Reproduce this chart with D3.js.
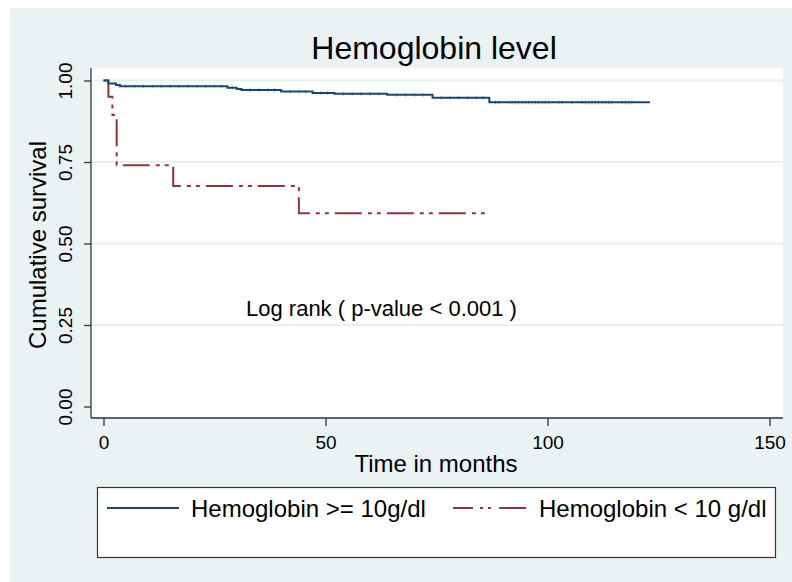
<!DOCTYPE html>
<html>
<head>
<meta charset="utf-8">
<script src="https://cdn.jsdelivr.net/npm/d3@7"></script>
<style>
  body { margin: 0; background: #fff; }
  text { font-family: "Liberation Sans", Arial, Helvetica, sans-serif; fill: #000; }
</style>
</head>
<body>
<div id="kmDiv"></div>
<script>

// Kaplan-Meier steps (time in months, survival)
var highTimes = [0, 1.1, 2.8, 3.7, 27.9, 30.0, 31.1, 40.0, 47.1, 52.0, 63.9, 74.1, 86.9];
var highSurv  = [1.0, 0.991, 0.986, 0.982, 0.978, 0.974, 0.971, 0.966, 0.962, 0.959, 0.956, 0.947, 0.933];
var highEnd = 123.1;

var lowTimes = [0, 1.1, 2.0, 2.97, 15.7, 44.0];
var lowSurv  = [1.0, 0.95, 0.894, 0.740, 0.676, 0.593];
var lowEnd = 87.0;

// censored times of the high group (little hatch marks on the line)
var highCensor = [5, 7, 9, 11, 13, 15, 17, 19, 21, 23, 25, 26.5, 29, 33, 35, 37, 38.5, 42, 44, 45.5,
  49, 50.5, 54, 56, 58, 60, 62, 66, 68, 70, 72, 76, 78, 80, 82, 84, 85.5,
  88.3, 89, 91.3, 92, 92.8, 93.5, 94.3, 95, 95.8, 96.5, 97.3, 98, 98.8, 99.5, 100.3,
  102.5, 103.3, 105.5, 107.8, 108.5, 109.3, 110, 110.8, 111.5, 112.3, 113, 113.8, 114.5,
  116.8, 117.5, 118.3, 119];

var xTicks = [0, 50, 100, 150];
var yTicks = [0, 0.25, 0.5, 0.75, 1];
var yGrid = [0.25, 0.5, 0.75, 1];

var seriesNames = ["Hemoglobin >= 10g/dl", "Hemoglobin < 10 g/dl"];
var seriesColors = ["#1a476f", "#90353b"];

var W = 792, H = 582;
var dashDotDot = "27,6,4,5,4,6";

var svg = d3.select("#kmDiv").append("svg")
    .attr("width", W)
    .attr("height", H);

// graph region background
svg.append("rect")
    .attr("x", 10).attr("y", 8)
    .attr("width", W - 10).attr("height", H - 8)
    .attr("fill", "#eaf2f3");

// plot region
var plot = {left: 91, right: 783, top: 68, bottom: 418};
svg.append("rect")
    .attr("x", plot.left).attr("y", plot.top)
    .attr("width", plot.right - plot.left).attr("height", plot.bottom - plot.top)
    .attr("fill", "#fff");

// scales
var x = d3.scaleLinear().domain([0, 150]).range([103.5, 769.5]);
var y = d3.scaleLinear().domain([0, 1]).range([406.5, 80.5]);

// gridlines
svg.selectAll(".grid")
    .data(yGrid)
  .enter().append("line")
    .attr("class", "grid")
    .attr("x1", plot.left + 1).attr("x2", plot.right)
    .attr("y1", function(d) { return y(d); })
    .attr("y2", function(d) { return y(d); })
    .attr("stroke", "#e8eff1")
    .attr("stroke-width", 2);

// axes
var ya = d3.axisLeft(y).tickValues(yTicks).tickSize(7).tickFormat(d3.format(".2f"));
var xa = d3.axisBottom(x).tickValues(xTicks).tickSize(8).tickFormat(d3.format("d"));

var gy = svg.append("g")
    .attr("transform", "translate(" + plot.left + ",0)")
    .call(ya);
gy.select(".domain").remove();
gy.append("line")
    .attr("x1", 0).attr("x2", 0)
    .attr("y1", plot.top).attr("y2", plot.bottom)
    .attr("stroke", "#333").attr("stroke-width", 1.3);
gy.selectAll(".tick line").attr("stroke", "#333").attr("stroke-width", 1.3);
gy.selectAll(".tick text")
    .attr("x", null).attr("dy", null)
    .attr("transform", "translate(-19,0) rotate(-90)")
    .style("text-anchor", "middle")
    .style("font-size", "19px")
    .style("font-family", "'Liberation Sans', Arial, sans-serif")
    .attr("fill", "#000");

var gx = svg.append("g")
    .attr("transform", "translate(0," + plot.bottom + ")")
    .call(xa);
gx.select(".domain").remove();
gx.append("line")
    .attr("x1", plot.left).attr("x2", plot.right)
    .attr("y1", 0).attr("y2", 0)
    .attr("stroke", "#333").attr("stroke-width", 1.3);
gx.selectAll(".tick line").attr("stroke", "#333").attr("stroke-width", 1.3);
gx.selectAll(".tick text")
    .attr("y", 31).attr("dy", null)
    .style("font-size", "19px")
    .style("font-family", "'Liberation Sans', Arial, sans-serif")
    .attr("fill", "#000");

// survival step curves
function stepPoints(times, surv, end) {
  var pts = times.map(function(t, i) { return [t, surv[i]]; });
  pts.push([end, surv[surv.length - 1]]);
  return pts;
}
var stepLine = d3.line()
    .x(function(d) { return x(d[0]); })
    .y(function(d) { return y(d[1]); })
    .curve(d3.curveStepAfter);

svg.append("path")
    .datum(stepPoints(lowTimes, lowSurv, lowEnd))
    .attr("d", stepLine)
    .attr("fill", "none")
    .attr("stroke", seriesColors[1])
    .attr("stroke-width", 2)
    .attr("stroke-dasharray", dashDotDot);

svg.append("path")
    .datum(stepPoints(highTimes, highSurv, highEnd))
    .attr("d", stepLine)
    .attr("fill", "none")
    .attr("stroke", seriesColors[0])
    .attr("stroke-width", 2);

// censor marks on the high group
var survAt = d3.scaleThreshold().domain(highTimes.slice(1)).range(highSurv);
svg.selectAll(".cens")
    .data(highCensor)
  .enter().append("line")
    .attr("class", "cens")
    .attr("x1", function(d) { return x(d); })
    .attr("x2", function(d) { return x(d); })
    .attr("y1", function(d) { return y(survAt(d)) - 2; })
    .attr("y2", function(d) { return y(survAt(d)) + 2; })
    .attr("stroke", seriesColors[0])
    .attr("stroke-opacity", 0.45)
    .attr("stroke-width", 1);

// title
svg.append("text")
    .attr("x", 434).attr("y", 59)
    .style("text-anchor", "middle")
    .style("font-size", "32px")
    .text("Hemoglobin level");

// axis titles
svg.append("text")
    .attr("x", 436).attr("y", 472)
    .style("text-anchor", "middle")
    .style("font-size", "24px")
    .text("Time in months");

svg.append("text")
    .attr("transform", "translate(46,245) rotate(-90)")
    .style("text-anchor", "middle")
    .style("font-size", "24px")
    .text("Cumulative survival");

// log rank note
svg.append("text")
    .attr("x", 246).attr("y", 316)
    .style("font-size", "22px")
    .text("Log rank ( p-value < 0.001 )");

// legend
svg.append("rect")
    .attr("x", 97.5).attr("y", 487.5)
    .attr("width", 678).attr("height", 70)
    .attr("fill", "#fff")
    .attr("stroke", "#333")
    .attr("stroke-width", 1.2);

var legX = [107, 453];
var leg = svg.selectAll(".leg")
    .data(seriesNames)
  .enter().append("g")
    .attr("class", "leg")
    .attr("transform", function(d, i) { return "translate(" + legX[i] + ",508)"; });
leg.append("line")
    .attr("x1", 0).attr("x2", function(d, i) { return i ? 73 : 72; })
    .attr("y1", 0).attr("y2", 0)
    .attr("stroke", function(d, i) { return seriesColors[i]; })
    .attr("stroke-width", 2)
    .attr("stroke-dasharray", function(d, i) { return i ? "20,7,3,5,3,8,27" : null; });
leg.append("text")
    .attr("x", function(d, i) { return i ? 86 : 84; })
    .attr("y", 9)
    .style("font-size", "24px")
    .text(function(d) { return d; });

</script>
</body>
</html>
